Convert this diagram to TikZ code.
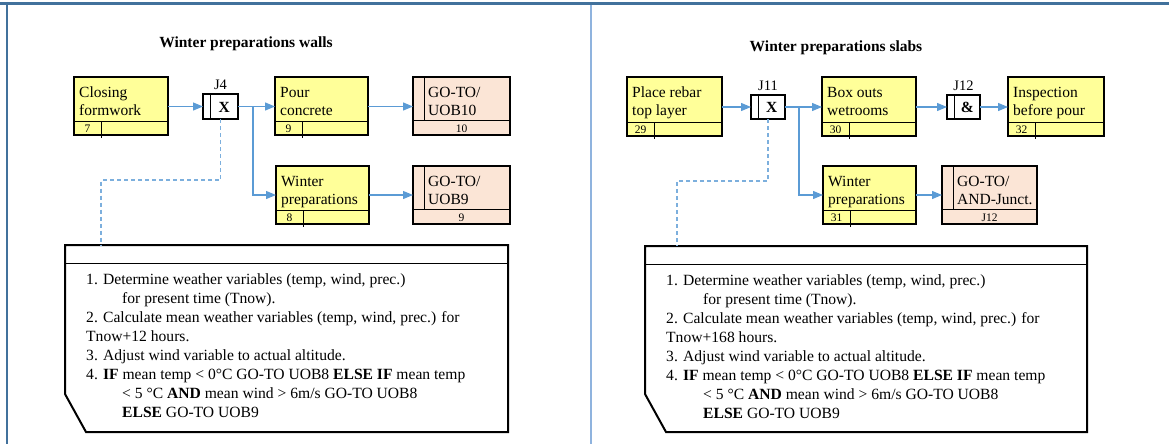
\documentclass[tikz,border=0pt]{standalone}
\usepackage{fontspec}
\setmainfont{Liberation Serif}
\usetikzlibrary{arrows.meta,calc}
\definecolor{ylw}{RGB}{255,255,153}
\definecolor{peach}{RGB}{251,229,214}
\definecolor{arrblue}{RGB}{91,155,213}
\definecolor{frameblue}{RGB}{65,113,156}
\definecolor{midblue}{RGB}{143,179,222}
\tikzset{
 actb/.style={draw=black, line width=2.4pt, fill=ylw, inner sep=0pt, outer sep=0pt, anchor=north west},
 gotob/.style={actb, fill=peach},
 junc/.style={draw=black, line width=2pt, fill=white, inner sep=0pt, outer sep=0pt, anchor=north west},
 thinl/.style={line width=1pt, draw=black},
 lbl/.style={inner sep=0pt, anchor=base west, font=\fontsize{15.5}{18}\selectfont},
 numl/.style={inner sep=0pt, anchor=base, font=\fontsize{11.5}{13}\selectfont},
 jlbl/.style={inner sep=0pt, anchor=base, font=\fontsize{14.5}{17}\selectfont},
 jsym/.style={inner sep=0pt, anchor=base, font=\bfseries\fontsize{15.5}{18}\selectfont},
 arr/.style={draw=arrblue, line width=1.2pt, -{Triangle[length=10pt,width=8pt]}},
 dashl/.style={draw=arrblue!80, line width=1.2pt, dash pattern=on 4pt off 3pt},
 bigl/.style={draw=black, line width=2pt},
 bigbox/.style={inner sep=0pt, outer sep=0pt, anchor=north west},
 body/.style={inner sep=0pt, anchor=base west, font=\fontsize{15.6}{19}\selectfont},
 ttl/.style={inner sep=0pt, anchor=base, font=\bfseries\fontsize{15.5}{18}\selectfont},
}
% activity box: name, x1, y1, x2, y2, line1, line2, number
\newcommand\actbox[8]{%
 \node[actb, minimum width=#4-#2, minimum height=#5-#3] (#1) at (#2,#3) {};
 \draw[thinl] (#2,{#5-14}) -- (#4,{#5-14});
 \draw[thinl] ({#2+27},{#5-14}) -- ({#2+27},{#5+3});
 \node[lbl] (#1-a) at ({#2+5},{#3+20}) {#6};
 \node[lbl] (#1-b) at ({#2+5},{#3+38}) {#7};
 \node[numl] (#1-n) at ({#2+13.5},{#5-3}) {#8};
}
% go-to box: name, x1, y1, x2, y2, line1, line2, number
\newcommand\gotobox[8]{%
 \node[gotob, minimum width=#4-#2, minimum height=#5-#3] (#1) at (#2,#3) {};
 \draw[thinl] (#2,{#5-15}) -- (#4,{#5-15});
 \draw[thinl] ({#2+11},#3) -- ({#2+11},{#5-15});
 \node[lbl] (#1-a) at ({#2+15},{#3+20}) {#6};
 \node[lbl] (#1-b) at ({#2+15},{#3+38}) {#7};
 \node[numl] (#1-n) at ({(#2+#4)/2},{#5-3}) {#8};
}
% junction: name, x1, y1, x2, y2, symbol, label
\newcommand\juncbox[7]{%
 \node[junc, minimum width=#4-#2, minimum height=#5-#3] (#1) at (#2,#3) {};
 \draw[thinl] ({#2+7.5},#3) -- ({#2+7.5},#5);
 \node[jsym] (#1-s) at ({(#2+7.5+#4)/2},{#5-7}) {#6};
 \node[jlbl] (#1-l) at ({(#2+#4)/2},{#3-5}) {#7};
}
\begin{document}
\begin{tikzpicture}[x=1pt,y=-1pt]
\useasboundingbox (0,0) rectangle (1169,444);
% frame
\draw[frameblue, line width=3pt] (0,3.5) -- (1169,3.5);
\draw[frameblue, line width=2.5pt] (7,2) -- (7,444);
\draw[midblue, line width=1.5pt] (591,5) -- (591,444);
% titles
\node[ttl] (titleL) at (246,48) {Winter preparations walls};
\node[ttl] (titleR) at (836,52) {Winter preparations slabs};

% ---------------- left panel ----------------
\actbox{closing}{74}{77}{168}{135}{Closing}{formwork}{7}
\juncbox{j4}{203}{94}{238}{119}{X}{J4}
\actbox{pour}{275}{77}{368}{135}{Pour}{concrete}{9}
\gotobox{goto10}{413}{77}{510}{135}{GO-TO/}{UOB10}{10}
\actbox{winter8}{276}{166}{369}{224}{Winter}{preparations}{8}
\gotobox{goto9}{413}{166}{510}{224}{GO-TO/}{UOB9}{9}

\draw[arr] (closing.east |- j4.west) -- (j4.west);
\draw[arr] (j4.east) -- (pour.west |- j4.east);
\coordinate (bL) at (253,106.5);
\draw[arr] (bL) |- (winter8.west);
\draw[arr] (pour.east |- j4.east) -- (goto10.west |- j4.east);
\draw[arr] (winter8.east) -- (goto9.west);

\node[bigbox, minimum width=443, minimum height=187] (bigL) at (65,245) {};
\draw[bigl] (bigL.north west) -- (bigL.north east) -- (bigL.south east) -- ($(bigL.south west)+(21,0)$) -- ($(bigL.south west)+(0,-38)$) -- cycle;
\draw[thinl] ($(bigL.north west)+(0,18)$) -- ($(bigL.north east)+(0,18)$);
\coordinate (dL) at (101,180);
\draw[dashl] (j4.south) |- (dL) -- (dL |- bigL.north);

\node[body] (tL1) at (86,284) {1. Determine weather variables (temp, wind, prec.)};
\node[body] (tL2) at (122,303) {for present time (Tnow).};
\node[body] (tL3) at (86,322) {2. Calculate mean weather variables (temp, wind, prec.) for};
\node[body] (tL4) at (86,341) {Tnow+12 hours.};
\node[body] (tL5) at (86,360) {3. Adjust wind variable to actual altitude.};
\node[body] (tL6) at (86,379) {4. \textbf{IF} mean temp < 0°C GO-TO UOB8 \textbf{ELSE IF} mean temp};
\node[body] (tL7) at (122,398) {< 5 °C \textbf{AND} mean wind > 6m/s GO-TO UOB8};
\node[body] (tL8) at (122,417) {\textbf{ELSE} GO-TO UOB9};

% ---------------- right panel ----------------
\actbox{rebar}{627}{77}{722}{136}{Place rebar}{top layer}{29}
\juncbox{j11}{751}{95}{785}{119}{X}{J11}
\actbox{boxouts}{822}{77}{916}{136}{Box outs}{wetrooms}{30}
\juncbox{j12}{947}{95}{980}{119}{\&}{J12}
\actbox{insp}{1008}{77}{1104}{136}{Inspection}{before pour}{32}
\actbox{winter31}{823}{166}{916}{224}{Winter}{preparations}{31}
\gotobox{gotoj}{942}{166}{1037}{224}{GO-TO/}{AND-Junct.}{J12}

\draw[arr] (rebar.east |- j11.west) -- (j11.west);
\draw[arr] (j11.east) -- (boxouts.west |- j11.east);
\coordinate (bR) at (799,107);
\draw[arr] (bR) |- (winter31.west);
\draw[arr] (boxouts.east |- j12.west) -- (j12.west);
\draw[arr] (j12.east) -- (insp.west |- j12.east);
\draw[arr] (winter31.east) -- (gotoj.west);

\node[bigbox, minimum width=442, minimum height=186] (bigR) at (645,246) {};
\draw[bigl] (bigR.north west) -- (bigR.north east) -- (bigR.south east) -- ($(bigR.south west)+(21,0)$) -- ($(bigR.south west)+(0,-38)$) -- cycle;
\draw[thinl] ($(bigR.north west)+(0,18)$) -- ($(bigR.north east)+(0,18)$);
\coordinate (dR) at (677,181);
\draw[dashl] (j11.south) |- (dR) -- (dR |- bigR.north);

\node[body] (tR1) at (666,285) {1. Determine weather variables (temp, wind, prec.)};
\node[body] (tR2) at (703,304) {for present time (Tnow).};
\node[body] (tR3) at (666,323) {2. Calculate mean weather variables (temp, wind, prec.) for};
\node[body] (tR4) at (666,342) {Tnow+168 hours.};
\node[body] (tR5) at (666,361) {3. Adjust wind variable to actual altitude.};
\node[body] (tR6) at (666,380) {4. \textbf{IF} mean temp < 0°C GO-TO UOB8 \textbf{ELSE IF} mean temp};
\node[body] (tR7) at (703,399) {< 5 °C \textbf{AND} mean wind > 6m/s GO-TO UOB8};
\node[body] (tR8) at (703,418) {\textbf{ELSE} GO-TO UOB9};
\end{tikzpicture}
\end{document}
